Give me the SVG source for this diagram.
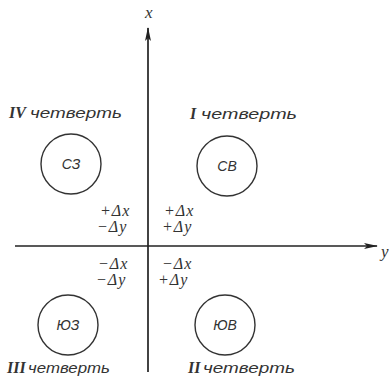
<svg xmlns="http://www.w3.org/2000/svg" width="390" height="387" viewBox="0 0 390 387">
<defs>
<marker id="arr" markerWidth="14" markerHeight="8" refX="13" refY="4" orient="auto" markerUnits="userSpaceOnUse">
<path d="M0,1 L14,4 L0,7 L3,4 Z" fill="#222"/>
</marker>
</defs>
<style>
.ax{stroke:#222;stroke-width:1.7;fill:none}
.c{stroke:#333;stroke-width:1.4;fill:#fff}
.q{font-family:"Liberation Sans",sans-serif;font-style:italic;font-size:15px;fill:#333}
.r{font-family:"Liberation Serif",serif;font-style:italic;font-weight:bold;font-size:16px;fill:#333}
.n{font-family:"Liberation Sans",sans-serif;font-style:italic;font-size:14px;fill:#333;text-anchor:middle}
.d{font-family:"Liberation Serif",serif;font-style:italic;font-size:16px;fill:#333;letter-spacing:1px}
.v{font-family:"Liberation Serif",serif;font-style:italic;font-size:17px;fill:#333}
</style>
<g id="connectors">
<line class="ax" x1="148" y1="372" x2="148" y2="28" marker-end="url(#arr)"/>
<line class="ax" x1="15" y1="246" x2="377" y2="246" marker-end="url(#arr)"/>
</g>
<g id="axis-labels">
<text class="v" x="145" y="18">x</text>
<text class="v" x="381" y="257">y</text>
</g>
<g id="q4"><text class="r" x="9" y="118">IV</text><text class="q" x="30" y="118" textLength="92" lengthAdjust="spacingAndGlyphs">четверть</text></g>
<g id="q1"><text class="r" x="190" y="119">I</text><text class="q" x="201" y="119" textLength="96" lengthAdjust="spacingAndGlyphs">четверть</text></g>
<g id="q3"><text class="r" x="7" y="373">III</text><text class="q" x="28" y="373" textLength="82" lengthAdjust="spacingAndGlyphs">четверть</text></g>
<g id="q2"><text class="r" x="188" y="373">II</text><text class="q" x="203" y="373" textLength="92" lengthAdjust="spacingAndGlyphs">четверть</text></g>
<g id="sz"><circle class="c" cx="71" cy="164" r="30"/><text class="n" x="71" y="169">СЗ</text></g>
<g id="sv"><circle class="c" cx="227" cy="166" r="30"/><text class="n" x="227" y="171">СВ</text></g>
<g id="yuz"><circle class="c" cx="68" cy="325" r="30"/><text class="n" x="68" y="330">ЮЗ</text></g>
<g id="yuv"><circle class="c" cx="225" cy="325" r="30"/><text class="n" x="225" y="330">ЮВ</text></g>
<g id="deltas">
<text class="d" x="100" y="216">+Δx</text>
<text class="d" x="97" y="232">−Δy</text>
<text class="d" x="164" y="216">+Δx</text>
<text class="d" x="162" y="232">+Δy</text>
<text class="d" x="98" y="269">−Δx</text>
<text class="d" x="96" y="285">−Δy</text>
<text class="d" x="162" y="269">−Δx</text>
<text class="d" x="158" y="285">+Δy</text>
</g>
</svg>
